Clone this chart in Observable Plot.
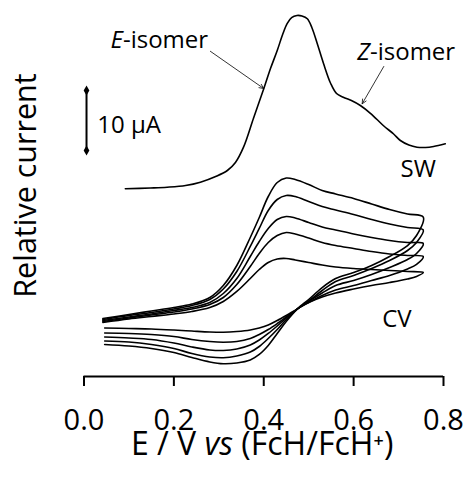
<!DOCTYPE html>
<html>
<head>
<meta charset="utf-8">
<script src="https://cdn.jsdelivr.net/npm/d3@7"></script>
<script src="https://cdn.jsdelivr.net/npm/@observablehq/plot@0.6"></script>
<style>
  html, body { margin: 0; padding: 0; background: #fff; }
</style>
</head>
<body>
<div id="chart"></div>
<script>
// ---- Square-wave voltammogram (E / V, relative current / µA) ----
const swPotential = [0.092, 0.148, 0.185, 0.226, 0.259, 0.293, 0.319, 0.337, 0.355, 0.377, 0.400, 0.415, 0.430, 0.442, 0.452, 0.462, 0.474, 0.485, 0.497, 0.507, 0.519, 0.533, 0.549, 0.562, 0.577, 0.595, 0.615, 0.638, 0.666, 0.689, 0.704, 0.723, 0.741, 0.760, 0.778, 0.804];
const swCurrent   = [31.28, 31.42, 31.55, 31.83, 32.38, 33.33, 34.33, 35.67, 38.22, 43.0, 47.95, 51.33, 54.33, 57.0, 58.83, 59.83, 60.17, 60.08, 59.62, 58.17, 55.5, 52.17, 48.83, 47.17, 46.55, 46.0, 45.17, 43.83, 41.83, 40.42, 39.33, 38.58, 38.22, 38.17, 38.33, 38.78];

// ---- Cyclic voltammograms: forward (anodic) and reverse scans ----
const cvForwardPotential = [0.042, 0.10, 0.15, 0.20, 0.24, 0.28, 0.31, 0.34, 0.37, 0.39, 0.41, 0.43, 0.45, 0.47, 0.50, 0.53, 0.56, 0.60, 0.64, 0.68, 0.72, 0.755];
const cvReversePotential = [0.74, 0.72, 0.68, 0.64, 0.60, 0.56, 0.53, 0.50, 0.475, 0.45, 0.43, 0.41, 0.39, 0.37, 0.34, 0.31, 0.28, 0.24, 0.20, 0.15, 0.10, 0.046];

const cvForward1 = [9.67, 10.33, 10.92, 11.5, 12.08, 13.17, 15.17, 18.5, 23.17, 26.5, 30.0, 32.33, 33.08, 32.83, 32.0, 31.0, 30.42, 29.67, 28.75, 27.83, 27.08, 26.58];
const cvForward2 = [9.5, 10.17, 10.67, 11.25, 11.83, 12.83, 14.58, 17.5, 21.67, 24.67, 27.67, 29.5, 30.17, 30.0, 29.17, 28.33, 27.75, 27.0, 26.17, 25.42, 24.83, 24.42];
const cvForward3 = [9.33, 9.92, 10.42, 11.0, 11.5, 12.33, 13.83, 16.33, 20.0, 22.5, 24.67, 26.17, 26.67, 26.42, 25.67, 24.92, 24.42, 23.75, 23.17, 22.67, 22.33, 22.17];
const cvForward4 = [9.17, 9.75, 10.25, 10.75, 11.25, 12.0, 13.17, 15.33, 18.33, 20.5, 22.33, 23.5, 24.0, 23.75, 23.08, 22.33, 21.83, 21.33, 20.83, 20.42, 20.17, 20.0];
const cvForward5 = [9.0, 9.58, 10.0, 10.42, 10.83, 11.5, 12.5, 14.17, 16.33, 17.83, 19.0, 19.58, 19.67, 19.42, 19.0, 18.58, 18.25, 18.0, 17.83, 17.67, 17.5, 17.33];

const cvReverse1 = [23.5, 21.83, 20.0, 18.5, 17.33, 16.33, 14.83, 12.83, 11.28, 9.17, 7.17, 5.17, 3.67, 2.75, 2.25, 2.12, 2.42, 3.17, 4.0, 4.67, 5.08, 5.33];
const cvReverse2 = [22.33, 21.0, 19.33, 18.0, 16.83, 15.83, 14.33, 12.58, 11.28, 9.5, 7.83, 6.33, 5.0, 4.08, 3.42, 3.12, 3.25, 3.83, 4.67, 5.33, 5.75, 5.92];
const cvReverse3 = [20.5, 19.5, 18.17, 17.0, 16.0, 15.17, 13.92, 12.5, 11.28, 9.75, 8.42, 7.17, 6.08, 5.25, 4.58, 4.33, 4.42, 4.92, 5.58, 6.17, 6.42, 6.58];
const cvReverse4 = [18.67, 17.92, 16.83, 16.0, 15.17, 14.42, 13.5, 12.33, 11.28, 9.92, 8.83, 7.83, 7.0, 6.33, 5.83, 5.72, 5.83, 6.17, 6.67, 7.0, 7.17, 7.25];
const cvReverse5 = [16.67, 16.25, 15.67, 15.17, 14.58, 13.92, 13.25, 12.33, 11.28, 10.17, 9.33, 8.58, 8.08, 7.75, 7.5, 7.38, 7.42, 7.58, 7.75, 7.92, 8.0, 8.08];

// ---- Axis ticks and annotations ----
const xTicks = [0.0, 0.2, 0.4, 0.6, 0.8];
const xLabel = "E / V vs (FcH/FcH⁺)";
const yLabel = "Relative current";
const scaleBar = {x: 0.0056, y1: 37.67, y2: 47.67, label: "10 µA"};
const annotations = [
  {text: "E-isomer", x: 0.059, y: 54.75},
  {text: "Z-isomer", x: 0.608, y: 52.78},
  {text: "10 µA",    x: 0.0294, y: 40.55},
  {text: "SW",       x: 0.7043, y: 33.22},
  {text: "CV",       x: 0.6636, y: 8.22}
];
const arrows = [
  {x1: 0.2812, y1: 54.2, x2: 0.3999, y2: 48.0},
  {x1: 0.6671, y1: 51.67, x2: 0.619, y2: 45.45}
];

// ---- Build tables ----
const sw = swPotential.map((E, i) => ({E, I: swCurrent[i]}));
const forwards = [cvForward1, cvForward2, cvForward3, cvForward4, cvForward5];
const reverses = [cvReverse1, cvReverse2, cvReverse3, cvReverse4, cvReverse5];
const cv = [];
forwards.forEach((f, k) => {
  f.forEach((I, i) => cv.push({loop: k, E: cvForwardPotential[i], I}));
  reverses[k].forEach((I, i) => cv.push({loop: k, E: cvReversePotential[i], I}));
});

const FONT = "'Open Sans', 'DejaVu Sans', sans-serif";

const plot = Plot.plot({
  width: 467,
  height: 478,
  marginLeft: 83.5,
  marginRight: 24,
  marginTop: 16,
  marginBottom: 102,
  style: {fontFamily: FONT, fontSize: "29px", color: "#000", background: "#fff", overflow: "visible"},
  x: {domain: [0, 0.8], axis: null},
  y: {domain: [0, 60], axis: null},
  marks: [
    Plot.ruleY([0], {stroke: "#000", strokeWidth: 2}),
    Plot.axisX(xTicks, {tickSize: 10, tickPadding: 23, strokeWidth: 2, tickFormat: d3.format(".1f"), fontSize: 29, fill: "#000", label: null}),
    Plot.line(sw, {x: "E", y: "I", stroke: "#000", strokeWidth: 1.6, curve: "catmull-rom"}),
    Plot.line(cv, {x: "E", y: "I", z: "loop", stroke: "#000", strokeWidth: 1.6, curve: "catmull-rom"}),
    Plot.ruleX([scaleBar], {x: "x", y1: "y1", y2: "y2", stroke: "#000", strokeWidth: 2}),
    Plot.dot([scaleBar], {x: "x", y: "y1", symbol: "diamond", r: 3, fill: "#000", stroke: "none"}),
    Plot.dot([scaleBar], {x: "x", y: "y2", symbol: "diamond", r: 3, fill: "#000", stroke: "none"}),
    Plot.arrow(arrows, {x1: "x1", y1: "y1", x2: "x2", y2: "y2", stroke: "#000", strokeWidth: 0.8, headLength: 9, headAngle: 50}),
    Plot.text(annotations, {x: "x", y: "y", text: "text", textAnchor: "start", lineAnchor: "bottom", fontSize: 24, fill: "#000"}),
    Plot.text([xLabel], {x: 0.3965, y: -13.1, text: d => d, textAnchor: "middle", lineAnchor: "bottom", fontSize: 32, fill: "#000"}),
    Plot.text([yLabel], {x: -0.1079, y: 31.83, text: d => d, textAnchor: "middle", lineAnchor: "bottom", rotate: -90, fontSize: 30.5, fill: "#000"})
  ]
});

// Mixed styles (italic letters) inside text
const rich = {
  "E-isomer": [["E", "i"], ["-isomer", ""]],
  "Z-isomer": [["Z", "i"], ["-isomer", ""]],
  "E / V vs (FcH/FcH⁺)": [["E / V ", ""], ["vs", "i"], [" (FcH/FcH", ""], ["⁺", ""], [")", ""]]
};
d3.select(plot).selectAll("text").each(function () {
  const t = this.textContent;
  if (rich[t]) {
    const sel = d3.select(this);
    sel.text(null);
    for (const [s, st] of rich[t]) {
      const ts = sel.append("tspan").text(s);
      if (st === "i") ts.attr("font-style", "italic");
    }
  }
});

document.getElementById("chart").appendChild(plot);
</script>
</body>
</html>
